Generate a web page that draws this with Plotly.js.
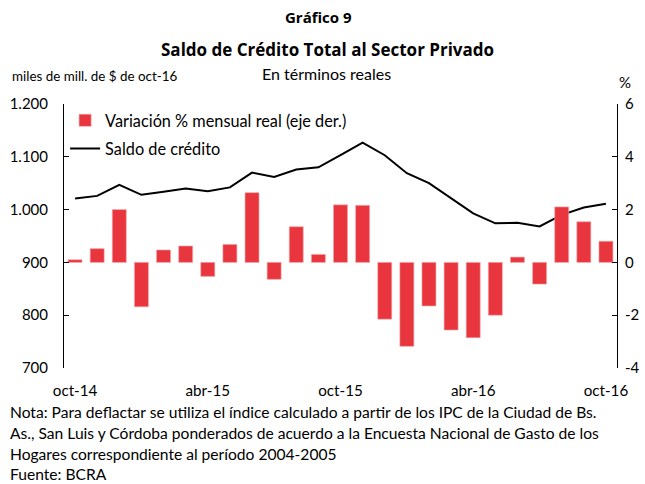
<!DOCTYPE html>
<html><head><meta charset="utf-8">
<script src="https://cdn.plot.ly/plotly-3.0.1.min.js"></script>
<style>body{margin:0;background:#fff}#chart{width:645px;height:484px}</style>
</head><body><div id="chart"></div>
<script>
const months = ["oct-14","nov-14","dic-14","ene-15","feb-15","mar-15","abr-15","may-15","jun-15","jul-15","ago-15","sep-15","oct-15","nov-15","dic-15","ene-16","feb-16","mar-16","abr-16","may-16","jun-16","jul-16","ago-16","sep-16","oct-16"];
const variacion = [0.1,0.52,2.0,-1.68,0.47,0.62,-0.53,0.68,2.64,-0.64,1.35,0.30,2.18,2.16,-2.15,-3.18,-1.65,-2.56,-2.85,-2.0,0.2,-0.82,2.1,1.54,0.8];
const saldo = [1021,1026,1047,1028,1034,1040,1035,1042,1070,1062,1076,1080,1103,1127,1103,1069,1050,1021,993,974,975,968,990,1004,1011];
const tickLabels = ["oct-14","abr-15","oct-15","abr-16","oct-16"];
const leftTicks = [700,800,900,1000,1100,1200];
const rightTicks = [-4,-2,0,2,4,6];

const idx = months.map((m,i)=>i);
const labelIdx = tickLabels.map(t=>months.indexOf(t));
const F = "Lato, 'Open Sans', sans-serif";
const FB = "'Open Sans', Lato, sans-serif";

const traces = [
  {type:'bar', x:idx, y:variacion, yaxis:'y2', name:'Variación % mensual real (eje der.)',
   marker:{color:'#E9353D', line:{color:'#F3A0A3', width:0.6}}, width:0.63, legendgroup:'a'},
  {type:'scatter', mode:'lines', x:idx, y:saldo, yaxis:'y', name:'Saldo de crédito',
   line:{color:'#000', width:2}, legendgroup:'b'}
];

const layout = {
  width:645, height:484,
  margin:{l:64, r:28, t:104, b:116},
  paper_bgcolor:'#fff', plot_bgcolor:'#fff',
  separators:',.',
  font:{family:F, size:14, color:'#000'},
  showlegend:true,
  legend:{x:0.002, y:1.003, xanchor:'left', yanchor:'top', bgcolor:'rgba(0,0,0,0)',
          font:{family:F, size:16.3}, traceorder:'grouped', tracegroupgap:4, itemwidth:30},
  xaxis:{range:[-0.5,24.5], tickvals:labelIdx, ticktext:tickLabels, ticks:'', showline:false,
         showgrid:false, zeroline:false, ticklabelstandoff:12, tickfont:{family:F,size:15.2}},
  xaxis2:{overlaying:'x', anchor:'free', position:0.4, range:[-0.5,24.5], side:'bottom',
          tickvals:[5.5,11.5,17.5,23.5], showticklabels:false, ticks:'inside', ticklen:5,
          tickcolor:'#000', showline:true, linecolor:'#000', linewidth:1, showgrid:false, zeroline:false},
  yaxis:{range:[700,1200], tickvals:leftTicks, tickformat:',d', ticks:'inside', ticklen:5,
         tickcolor:'#000', showline:true, linecolor:'#000', linewidth:1, showgrid:false, zeroline:false,
         tickfont:{family:F,size:15}, ticklabelstandoff:12},
  yaxis2:{range:[-4,6], tickvals:rightTicks, ticktext:rightTicks.map(String), overlaying:'y', side:'right',
          ticks:'inside', ticklen:5, tickcolor:'#000', showline:true, linecolor:'#000', linewidth:1,
          showgrid:false, zeroline:false, tickfont:{family:F,size:15}, ticklabelstandoff:4},
  annotations:[
    {text:'<b>Gráfico 9</b>', x:318, y:17, font:{family:FB,size:15}},
    {text:'<b>Saldo de Crédito Total al Sector Privado</b>', x:327, y:50, font:{family:FB,size:17}},
    {text:'En términos reales', x:326, y:73, font:{family:F,size:16}},
    {text:'miles de mill. de $ de oct-16', x:10, y:76, xanchor:'left', font:{family:F,size:13.4}},
    {text:'%', x:633, y:82, font:{family:F,size:15}},
    {text:'Nota: Para deflactar se utiliza el índice calculado a partir de los IPC de la Ciudad de Bs.', x:8, y:412, xanchor:'left'},
    {text:'As., San Luis y Córdoba ponderados de acuerdo a la Encuesta Nacional de Gasto de los', x:8, y:433, xanchor:'left'},
    {text:'Hogares correspondiente al período 2004-2005', x:8, y:454, xanchor:'left'},
    {text:'Fuente: BCRA', x:8, y:474, xanchor:'left'}
  ]
};
// convert pixel annotation positions to paper coords
const pw = 645-64-28, ph = 484-104-116;
layout.annotations = layout.annotations.map(a=>{
  const o = Object.assign({font:{family:F,size:15.6,color:'#000'}}, a);
  o.font = Object.assign({color:'#000'}, o.font);
  o.xref='paper'; o.yref='paper'; o.showarrow=false;
  o.x = (a.x-64)/pw;
  o.y = (484-116-a.y)/ph;
  o.yanchor='middle';
  return o;
});
Plotly.newPlot('chart', traces, layout, {staticPlot:true});
</script></body></html>
